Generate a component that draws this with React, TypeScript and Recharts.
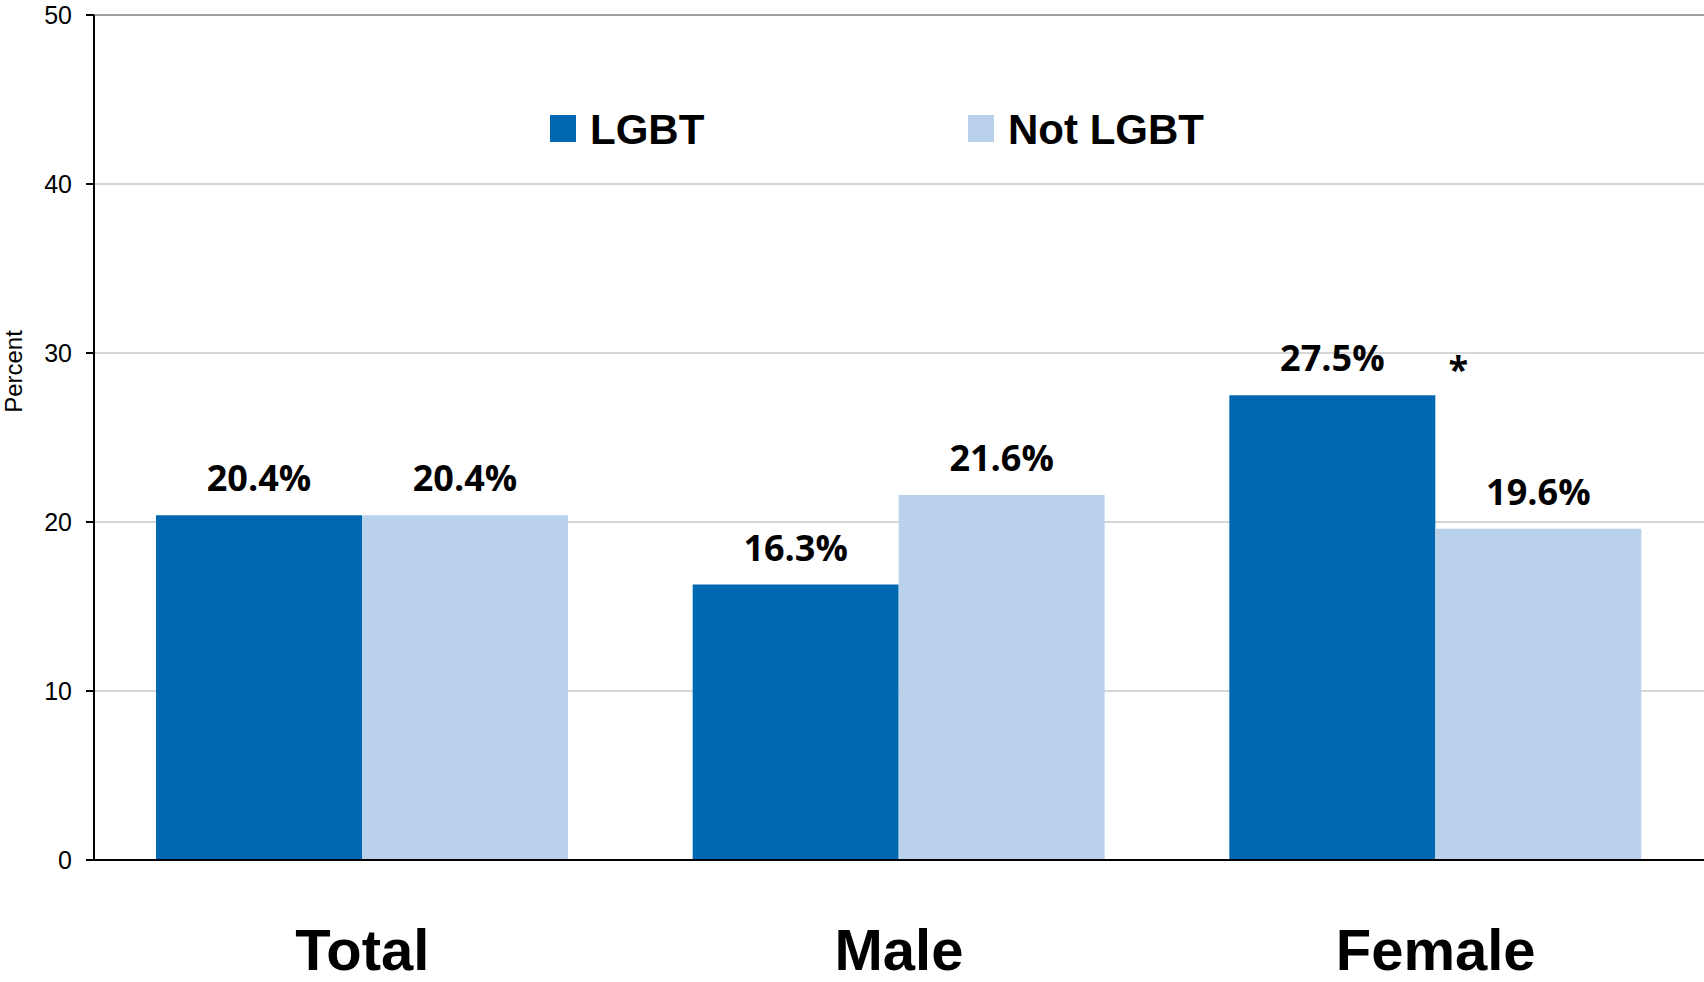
import React from 'react';
import {
  BarChart,
  Bar,
  XAxis,
  YAxis,
  CartesianGrid,
  ReferenceLine,
  LabelList,
  Legend,
} from 'recharts';

const categories = ['Total', 'Male', 'Female'];
const lgbtValues = [20.4, 16.3, 27.5];
const notLgbtValues = [20.4, 21.6, 19.6];
const significance = ['', '', '*'];
const yTicks = [0, 10, 20, 30, 40, 50];
const seriesNames = ['LGBT', 'Not LGBT'];
const yAxisTitle = 'Percent';

const COLORS = ['#0067b1', '#bad1ec'];

const data = categories.map((c, i) => ({
  category: c,
  lgbt: lgbtValues[i],
  notLgbt: notLgbtValues[i],
  sig: significance[i],
}));

const LABEL_FONT = '"Open Sans", "DejaVu Sans", sans-serif';
const ARIAL = '"Liberation Sans", Arial, sans-serif';

const makeLabel = (withSig: boolean) => (props: any) => {
  const { x, y, width, value, index } = props;
  const cx = Number(x) + Number(width) / 2;
  const top = Number(y);
  const sig = withSig ? data[index]?.sig : '';
  return (
    <g>
      <text
        x={cx}
        y={top - 24}
        textAnchor="middle"
        fontFamily={LABEL_FONT}
        fontWeight={700}
        fontSize={36}
        fill="#000"
      >
        {Number(value).toFixed(1)}%
      </text>
      {sig ? (
        <text
          x={Number(x) + Number(width) + 23}
          y={top - 13}
          textAnchor="middle"
          fontFamily={LABEL_FONT}
          fontWeight={700}
          fontSize={36}
          fill="#000"
        >
          {sig}
        </text>
      ) : null}
    </g>
  );
};

const legendPositions = [550, 968];

const LegendContent = (props: any) => {
  const payload = props.payload || [];
  return (
    <svg width={1704} height={200} style={{ display: 'block' }}>
      {payload.map((p: any, i: number) => (
        <g key={i}>
          <rect x={legendPositions[i]} y={115} width={26} height={27} fill={p.color} />
          <text
            x={legendPositions[i] + 40}
            y={144}
            fontFamily={ARIAL}
            fontWeight={700}
            fontSize={42}
            fill="#000"
          >
            {p.value}
          </text>
        </g>
      ))}
    </svg>
  );
};

const PercentLabel = (props: any) => {
  const vb = props.viewBox || { x: 0, y: 15 };
  const cy = vb.y + 356.5;
  const bx = vb.x + 22;
  return (
    <text
      x={bx}
      y={cy}
      transform={`rotate(-90 ${bx} ${cy})`}
      textAnchor="middle"
      fontFamily={ARIAL}
      fontSize={24}
      fill="#000"
    >
      {yAxisTitle}
    </text>
  );
};

export default function App() {
  return (
    <div style={{ width: 1704, height: 982, background: '#fff' }}>
      <style>{'body{margin:0;background:#fff}'}</style>
      <BarChart
        width={1704}
        height={982}
        data={data}
        margin={{ top: 15, right: 0, left: 0, bottom: 0 }}
        barCategoryGap={62}
        barGap={0}
      >
        <CartesianGrid vertical={false} stroke="#c8c8c8" strokeWidth={1.5} />
        <ReferenceLine y={50} stroke="#8c8c8c" strokeWidth={1.5} />
        <XAxis
          dataKey="category"
          axisLine={{ stroke: '#000', strokeWidth: 2 }}
          tickLine={false}
          tickSize={0}
          tickMargin={69}
          height={122}
          interval={0}
          tick={{ fontSize: 58, fontWeight: 700, fill: '#000', fontFamily: ARIAL }}
        />
        <YAxis
          domain={[0, 50]}
          ticks={yTicks}
          width={94}
          axisLine={{ stroke: '#000', strokeWidth: 2 }}
          tickLine={{ stroke: '#000', strokeWidth: 2 }}
          tickSize={8}
          tickMargin={14}
          tick={{ fontSize: 25, fill: '#000', fontFamily: ARIAL }}
          label={(p: any) => <PercentLabel {...p} />}
        />
        <Legend
          layout="horizontal"
          verticalAlign="middle"
          align="center"
          wrapperStyle={{ top: 0, left: 0, width: 1704, height: 200 }}
          content={<LegendContent />}
        />
        <Bar dataKey="lgbt" name={seriesNames[0]} fill={COLORS[0]} isAnimationActive={false}>
          <LabelList dataKey="lgbt" content={makeLabel(true)} />
        </Bar>
        <Bar dataKey="notLgbt" name={seriesNames[1]} fill={COLORS[1]} isAnimationActive={false}>
          <LabelList dataKey="notLgbt" content={makeLabel(false)} />
        </Bar>
      </BarChart>
    </div>
  );
}
